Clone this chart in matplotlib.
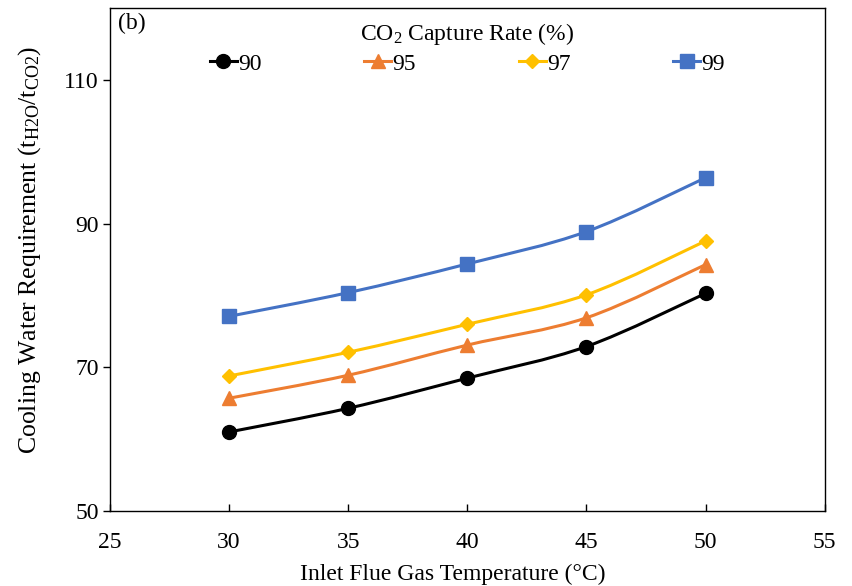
import numpy as np
import matplotlib
matplotlib.use('Agg')
import matplotlib.pyplot as plt
from matplotlib.path import Path
from matplotlib.patches import PathPatch
from matplotlib.lines import Line2D

plt.rcParams['font.family'] = ['Liberation Serif', 'DejaVu Serif']
plt.rcParams['mathtext.fontset'] = 'custom'
plt.rcParams['mathtext.rm'] = 'Liberation Serif'
plt.rcParams['mathtext.it'] = 'Liberation Serif:italic'

temps = [30, 35, 40, 45, 50]
rate_labels = ['90', '95', '97', '99']
cw_90 = [61.0, 64.3, 68.5, 72.9, 80.3]
cw_95 = [65.7, 68.9, 73.1, 76.9, 84.3]
cw_97 = [68.8, 72.1, 76.0, 80.1, 87.6]
cw_99 = [77.1, 80.4, 84.4, 88.9, 96.4]

series = [cw_90, cw_95, cw_97, cw_99]
colors = ['#000000', '#ED7D31', '#FFC000', '#4472C4']
markers = ['o', '^', 'D', 's']
msizes = [10, 10, 7.5, 9.5]

FS = 17


def smooth_path(xs, ys):
    # Excel-like smoothed line: cubic Bezier segments through the points
    pts = np.column_stack([xs, ys]).astype(float)
    n = len(pts)
    verts = [pts[0]]
    codes = [Path.MOVETO]
    for i in range(n - 1):
        p0 = pts[i - 1] if i > 0 else pts[i]
        p1 = pts[i]
        p2 = pts[i + 1]
        p3 = pts[i + 2] if i + 2 < n else pts[i + 1]
        c1 = p1 + (p2 - p0) / 6.0
        c2 = p2 - (p3 - p1) / 6.0
        verts += [c1, c2, p2]
        codes += [Path.CURVE4] * 3
    return Path(verts, codes)


fig = plt.figure(figsize=(8.52, 5.86), dpi=100)
ax = fig.add_axes([0.129, 0.128, 0.839, 0.858])

handles = []
for ys, c, m, ms, lab in zip(series, colors, markers, msizes, rate_labels):
    ax.add_patch(PathPatch(smooth_path(temps, ys), fill=False, edgecolor=c, lw=2.2, zorder=2))
    ax.plot(temps, ys, ls='none', marker=m, ms=ms, color=c, zorder=3)
    handles.append(Line2D([], [], color=c, lw=2.2, marker=m, ms=ms, label=lab))

ax.set_xlim(25, 55)
ax.set_ylim(50, 120)
ax.set_xticks(range(25, 56, 5))
ax.set_yticks([50, 70, 90, 110])
ax.tick_params(axis='x', direction='in', length=5, width=1, labelsize=FS, pad=15)
ax.tick_params(axis='y', direction='out', length=5, width=1, labelsize=FS, pad=3)
for s in ax.spines.values():
    s.set_linewidth(1)

ax.set_xlabel('Inlet Flue Gas Temperature (°C)', fontsize=FS)
ax.xaxis.set_label_coords(0.48, -0.105)
ax.set_ylabel('Cooling Water Requirement (t$_{\\mathrm{H2O}}$/t$_{\\mathrm{CO2}}$)', fontsize=18.5)
ax.yaxis.set_label_coords(-0.094, 0.519)

ax.text(0.012, 0.99, '(b)', transform=ax.transAxes, fontsize=FS, va='top', ha='left')

leg = ax.legend(handles=handles, ncol=4, loc='upper center', bbox_to_anchor=(0.5, 1.0),
                frameon=False, fontsize=FS, title='CO$_2$ Capture Rate (%)', title_fontsize=FS,
                handlelength=1.15, handletextpad=0.05, columnspacing=4.35, borderaxespad=0.15,
                labelspacing=0.25)

fig.savefig('out.png', dpi=100)
